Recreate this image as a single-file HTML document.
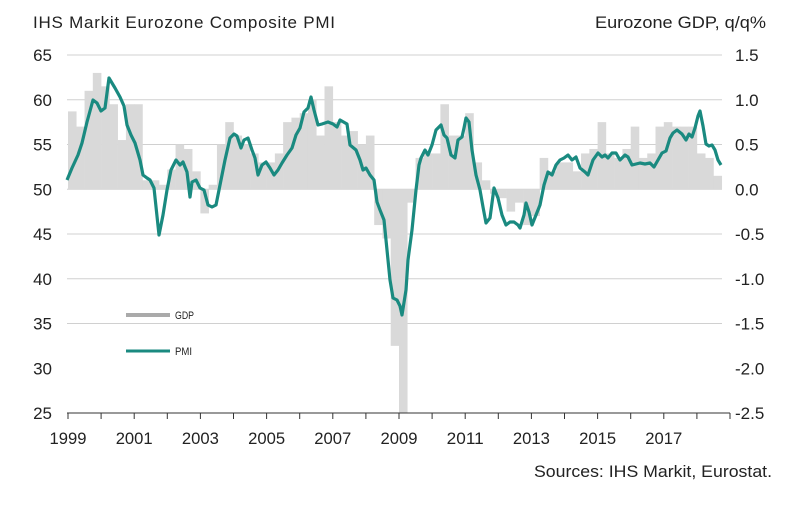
<!DOCTYPE html>
<html><head><meta charset="utf-8"><style>
body{margin:0;background:#fff;width:811px;height:500px;overflow:hidden;font-family:"Liberation Sans",Arial,sans-serif}
svg text{font-family:"Liberation Sans",Arial,sans-serif;fill:#222}
</style></head><body>
<svg id="c" width="811" height="500" xmlns="http://www.w3.org/2000/svg"></svg>
<script>
const s=document.getElementById('c');let h='';
const X0=68,YR=33.1,x=t=>X0+YR*(t-1999);
const yP=v=>55+(65-v)*8.95; const yG=g=>yP(50+g*10);
const G=[0.87,0.7,1.1,1.3, 1.15,0.95,0.55,0.95, 0.95,0.1,0.1,0.05, 0.22,0.5,0.45,0.2, -0.27,0.05,0.5,0.75, 0.6,0.5,0.4,0.3, 0.3,0.4,0.75,0.8, 0.85,1.0,0.6,1.15, 0.75,0.6,0.65,0.5, 0.6,-0.4,-0.55,-1.75, -3.0,-0.15,0.35,0.4, 0.4,0.95,0.6,0.6, 0.85,0.3,0.1,-0.05, -0.1,-0.25,-0.15,-0.4, -0.3,0.35,0.2,0.3, 0.3,0.2,0.4,0.45, 0.75,0.4,0.35,0.45, 0.7,0.35,0.4,0.7, 0.75,0.7,0.7,0.7, 0.4,0.35,0.15];
for(let i=1;i<=8;i++){const y=yP(65-5*(i-1));if(i<8)h+=`<line x1="67" x2="722" y1="${y}" y2="${y}" stroke="#d0d0d0" stroke-width="1"/>`;}
G.forEach((g,i)=>{const x1=x(1999+i/4),w=YR/4;let y0=yP(50),y1=Math.max(55,Math.min(413,yG(g)));h+=`<rect x="${x1}" y="${Math.min(y0,y1)}" width="${w+0.3}" height="${Math.abs(y1-y0)}" fill="#d9d9d9"/>`;});
h+=`<line x1="67" x2="730" y1="413" y2="413" stroke="#333" stroke-width="1"/>`;
for(let i=0;i<=20;i++){h+=`<line x1="${x(1999+i)}" x2="${x(1999+i)}" y1="413" y2="419" stroke="#333"/>`;}
for(let i=0;i<10;i++){h+=`<text x="${x(1999+2*i)-18.5}" y="444" font-size="17" textLength="37" lengthAdjust="spacingAndGlyphs">${1999+2*i}</text>`;}
const L=[65,60,55,50,45,40,35,30,25],R=['1.5','1.0','0.5','0.0','-0.5','-1.0','-1.5','-2.0','-2.5'];
L.forEach((v,i)=>{const y=yP(v)+6;h+=`<text x="52" y="${y}" font-size="17" text-anchor="end">${v}</text><text x="735" y="${y}" font-size="17">${R[i]}</text>`;});
const P=[[67,180],[72,168],[78,155],[82,143],[87,122],[93,100],[97,103],[101,111],[105,108],[109,78],[115,88],[120,97],[124,106],[127,125],[131,135],[135,143],[140,160],[143,175],[147,178],[150,180],[154,188],[159,235],[163,215],[167,190],[171,170],[176,160],[180,165],[183,162],[187,172],[190,197],[192,182],[196,180],[200,188],[204,190],[208,205],[212,207],[216,205],[220,185],[225,160],[230,138],[234,134],[237,136],[241,148],[244,140],[248,138],[252,150],[255,158],[258,175],[262,165],[266,162],[270,168],[274,175],[278,170],[282,163],[287,155],[292,148],[296,135],[300,128],[304,112],[308,108],[311,97],[314,110],[318,125],[322,124],[328,122],[333,124],[337,127],[340,120],[347,124],[350,145],[356,150],[360,160],[363,170],[366,168],[370,175],[374,180],[377,202],[380,210],[384,220],[386,240],[390,280],[393,298],[397,300],[400,306],[402,315],[406,290],[408,260],[412,230],[416,190],[419,165],[421,158],[425,150],[428,155],[432,145],[436,130],[441,125],[444,135],[447,138],[451,155],[455,158],[458,140],[462,137],[464,128],[466,118],[469,122],[472,150],[476,175],[480,190],[483,207],[486,223],[490,218],[494,188],[498,198],[502,215],[506,225],[510,222],[514,222],[518,225],[520,228],[524,215],[526,203],[529,212],[532,225],[536,215],[540,205],[544,185],[548,172],[552,175],[556,165],[560,160],[564,158],[568,155],[572,160],[576,157],[580,168],[585,172],[588,175],[593,160],[598,153],[602,157],[605,155],[608,158],[612,153],[616,153],[620,160],[625,155],[628,157],[632,165],[636,164],[640,163],[645,164],[650,163],[654,167],[658,160],[662,153],[666,151],[670,138],[673,133],[677,130],[682,134],[686,140],[689,134],[692,137],[695,128],[698,116],[700,111],[703,126],[706,144],[709,146],[712,145],[715,150],[718,160],[721,165]];
h+=`<polyline fill="none" stroke="#1a8a80" stroke-width="3.2" stroke-linejoin="round" points="${P.map(p=>p.join(',')).join(' ')}"/>`;
h+=`<line x1="126" x2="170" y1="315" y2="315" stroke="#aaa" stroke-width="4"/><text x="175" y="319" font-size="11" textLength="19" lengthAdjust="spacingAndGlyphs">GDP</text>`;
h+=`<line x1="126" x2="170" y1="351" y2="351" stroke="#1a8a80" stroke-width="3"/><text x="175" y="355" font-size="11" textLength="17" lengthAdjust="spacingAndGlyphs">PMI</text>`;
h+=`<text x="33" y="28" font-size="17" textLength="302" lengthAdjust="spacing">IHS Markit Eurozone Composite PMI</text>`;
h+=`<text x="595" y="28" font-size="17" textLength="171" lengthAdjust="spacingAndGlyphs">Eurozone GDP, q/q%</text>`;
h+=`<text x="534" y="477" font-size="17" textLength="238" lengthAdjust="spacingAndGlyphs">Sources: IHS Markit, Eurostat.</text>`;
s.innerHTML=h;
</script>
</body></html>
